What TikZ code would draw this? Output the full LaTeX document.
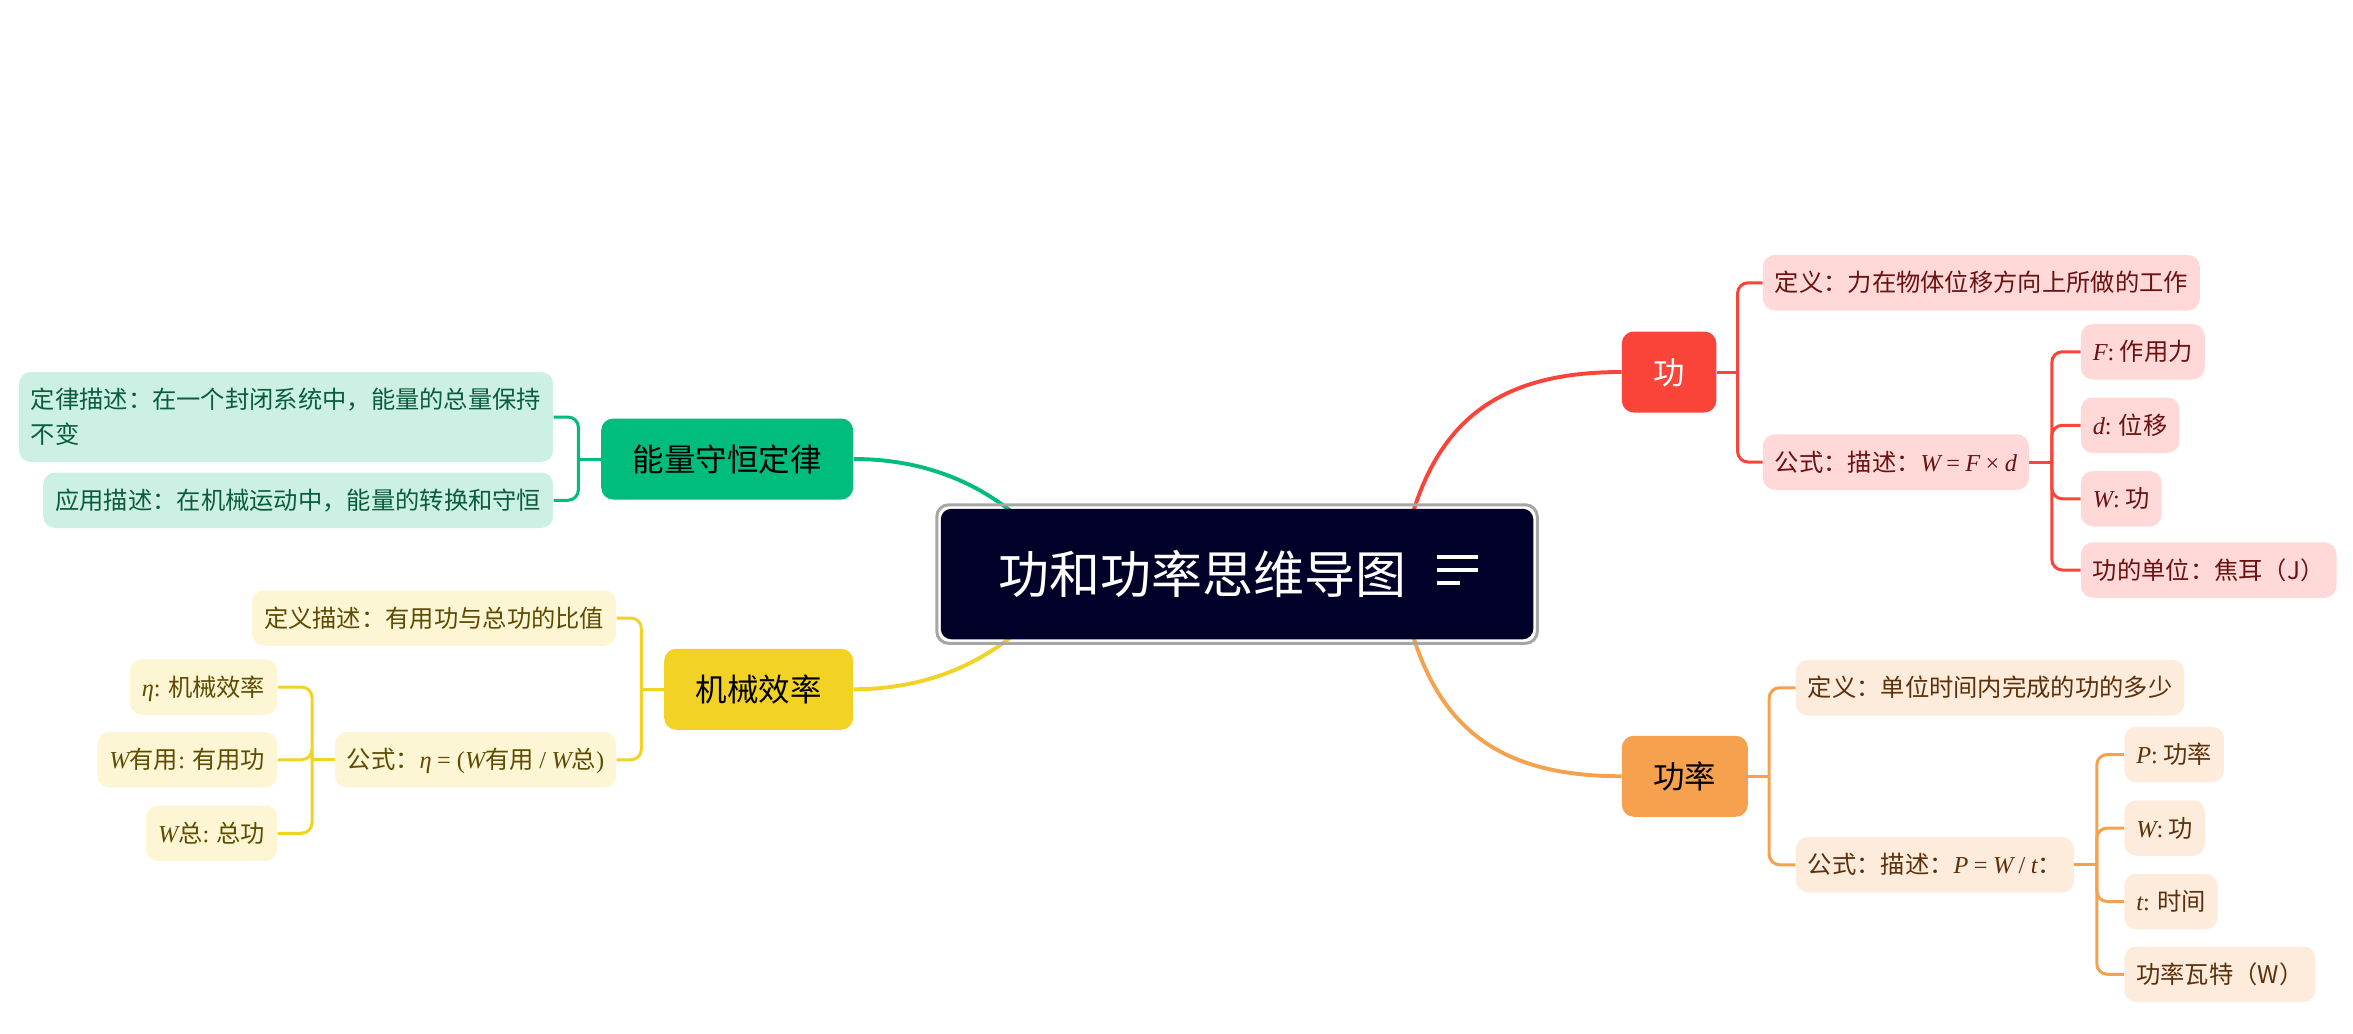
\documentclass[tikz,border=0pt]{standalone}
\usepackage{fontspec}
\setmainfont{Noto Sans CJK SC}
\newfontfamily\formfont{Liberation Serif}
\usetikzlibrary{calc}
\definecolor{rootnavy}{HTML}{000028}
\definecolor{rootgray}{HTML}{A6A6A6}
\definecolor{gongred}{HTML}{FA4339}
\definecolor{gongfill}{HTML}{FFD9D8}
\definecolor{gongtext}{HTML}{6A1111}
\definecolor{powerorange}{HTML}{F6A14E}
\definecolor{powerfill}{HTML}{FDEBDB}
\definecolor{powertext}{HTML}{5C300A}
\definecolor{energygreen}{HTML}{00BC7D}
\definecolor{energyfill}{HTML}{CCF1E4}
\definecolor{energytext}{HTML}{0A5C3D}
\definecolor{mechyellow}{HTML}{F2D325}
\definecolor{mechfill}{HTML}{FDF6D4}
\definecolor{mechtext}{HTML}{5E4A00}
\newcommand\fv[1]{{\formfont\itshape #1}}
\newcommand\fx[1]{{\formfont #1}}
\pgfdeclarelayer{bg}
\pgfsetlayers{bg,main}
\begin{document}
\begin{tikzpicture}[
  x=1pt, y=-1pt,
  root/.style={fill=rootnavy, text=white, rounded corners=7pt, minimum width=395pt, minimum height=87pt, text height=30pt, text depth=4pt, font=\fontsize{34}{40}\selectfont},
  topic/.style={rounded corners=8pt, inner xsep=21pt, inner ysep=0pt, minimum height=54pt, text height=18.5pt, text depth=2.5pt, font=\fontsize{21}{25}\selectfont},
  leaf/.style={rounded corners=8pt, inner xsep=8pt, inner ysep=0pt, minimum height=37pt, text height=14.3pt, text depth=2pt, font=\fontsize{16.2}{23.3}\selectfont},
  gongleaf/.style={leaf, fill=gongfill, text=gongtext, anchor=west},
  powerleaf/.style={leaf, fill=powerfill, text=powertext, anchor=west},
  energyleaf/.style={leaf, fill=energyfill, text=energytext, anchor=east},
  mechleaf/.style={leaf, fill=mechfill, text=mechtext, anchor=east},
  branch/.style={line width=2pt, rounded corners=7pt},
  mainlink/.style={line width=2.6pt}
]
\useasboundingbox (0,0) rectangle (1568.67,688.67);

\node[root] (root) at (824.7,382.7) {功和功率思维导图\kern46pt};
\draw[rootgray, line width=2pt, rounded corners=8pt] ($(root.north west)+(-2.5,-2.5)$) rectangle ($(root.south east)+(2.5,2.5)$);
\foreach \dy/\len in {-11.4/27, -2.7/27, 6/15}
  \draw[white, line width=2.2pt] ($(root.center)+(133.3,\dy)$) -- ++(\len,0);

\node[topic, fill=gongred, text=white, anchor=west] (gong) at (1081,248) {功};
\node[topic, fill=powerorange, anchor=west] (power) at (1081,517.5) {功率};
\node[topic, fill=energygreen, anchor=east] (energy) at (569,306) {能量守恒定律};
\node[topic, fill=mechyellow, anchor=east] (mech) at (569,459.5) {机械效率};

\node[gongleaf] (gongdef) at (1175,188.5) {定义：力在物体位移方向上所做的工作};
\node[gongleaf] (gongform) at (1175,308) {公式：描述：\fv{W} \fx{=} \fv{F} \fx{×} \fv{d}};
\node[gongleaf] (gongF) at (1387,234.5) {\fv{F}\fx{:} 作用力};
\node[gongleaf] (gongd) at (1387,283.5) {\fv{d}\fx{:} 位移};
\node[gongleaf] (gongW) at (1387,332.5) {\fv{W}\fx{:} 功};
\node[gongleaf] (gongunit) at (1387,380) {功的单位：焦耳（J）};

\node[powerleaf] (powerdef) at (1197,458.5) {定义：单位时间内完成的功的多少};
\node[powerleaf] (powerform) at (1197,576.5) {公式：描述：\fv{P} \fx{=} \fv{W} \fx{/} \fv{t}：};
\node[powerleaf] (powerP) at (1416,503) {\fv{P}\fx{:} 功率};
\node[powerleaf] (powerW) at (1416,552) {\fv{W}\fx{:} 功};
\node[powerleaf] (powert) at (1416,601) {\fv{t}\fx{:} 时间};
\node[powerleaf] (powerunit) at (1416,649.5) {功率瓦特（W）};

\node[energyleaf, align=left, minimum height=60pt, text height=37.6pt] (energylaw) at (369,278) {定律描述：在一个封闭系统中，能量的总量保持\\不变};
\node[energyleaf] (energyuse) at (369,333.5) {应用描述：在机械运动中，能量的转换和守恒};

\node[mechleaf] (mechdef) at (411,412) {定义描述：有用功与总功的比值};
\node[mechleaf] (mechform) at (411,506.5) {公式：\fv{η} \fx{= (}\fv{W}有用 \fx{/} \fv{W}总\fx{)}};
\node[mechleaf] (mecheta) at (185,458) {\fv{η}\fx{:} 机械效率};
\node[mechleaf] (mechuse) at (185,506.5) {\fv{W}有用\fx{:} 有用功};
\node[mechleaf] (mechtotal) at (185,555.5) {\fv{W}总\fx{:} 总功};

\begin{pgfonlayer}{bg}
\draw[mainlink, gongred] ($(root.center)+(115,-33)$) .. controls +(20,-75) and +(-75,0) .. (gong.west);
\draw[mainlink, powerorange] ($(root.center)+(115,33)$) .. controls +(20,75) and +(-75,0) .. (power.west);
\draw[mainlink, energygreen] ($(root.center)+(-135,-28)$) .. controls +(-30,-30) and +(51,0) .. (energy.east);
\draw[mainlink, mechyellow] ($(root.center)+(-135,28)$) .. controls +(-30,30) and +(51,0) .. (mech.east);

\coordinate (gongtrunk) at ($(gong.east)+(14,0)$);
\draw[branch, gongred] (gong.east) -- (gongtrunk);
\foreach \c in {gongdef,gongform}
  \draw[branch, gongred] (gongtrunk) |- (\c.west);
\coordinate (gongformtrunk) at ($(gongform.east)+(15,0)$);
\draw[branch, gongred] (gongform.east) -- (gongformtrunk);
\foreach \c in {gongF,gongd,gongW,gongunit}
  \draw[branch, gongred] (gongformtrunk) |- (\c.west);

\coordinate (powertrunk) at ($(power.east)+(14,0)$);
\draw[branch, powerorange] (power.east) -- (powertrunk);
\foreach \c in {powerdef,powerform}
  \draw[branch, powerorange] (powertrunk) |- (\c.west);
\coordinate (powerformtrunk) at ($(powerform.east)+(15,0)$);
\draw[branch, powerorange] (powerform.east) -- (powerformtrunk);
\foreach \c in {powerP,powerW,powert,powerunit}
  \draw[branch, powerorange] (powerformtrunk) |- (\c.west);

\coordinate (energytrunk) at ($(energy.west)+(-15,0)$);
\draw[branch, energygreen] (energy.west) -- (energytrunk);
\foreach \c in {energylaw,energyuse}
  \draw[branch, energygreen] (energytrunk) |- (\c.east);

\coordinate (mechtrunk) at ($(mech.west)+(-15,0)$);
\draw[branch, mechyellow] (mech.west) -- (mechtrunk);
\foreach \c in {mechdef,mechform}
  \draw[branch, mechyellow] (mechtrunk) |- (\c.east);
\coordinate (mechformtrunk) at ($(mechform.west)+(-15,0)$);
\draw[branch, mechyellow] (mechform.west) -- (mechformtrunk);
\foreach \c in {mecheta,mechuse,mechtotal}
  \draw[branch, mechyellow] (mechformtrunk) |- (\c.east);
\end{pgfonlayer}
\end{tikzpicture}
\end{document}
